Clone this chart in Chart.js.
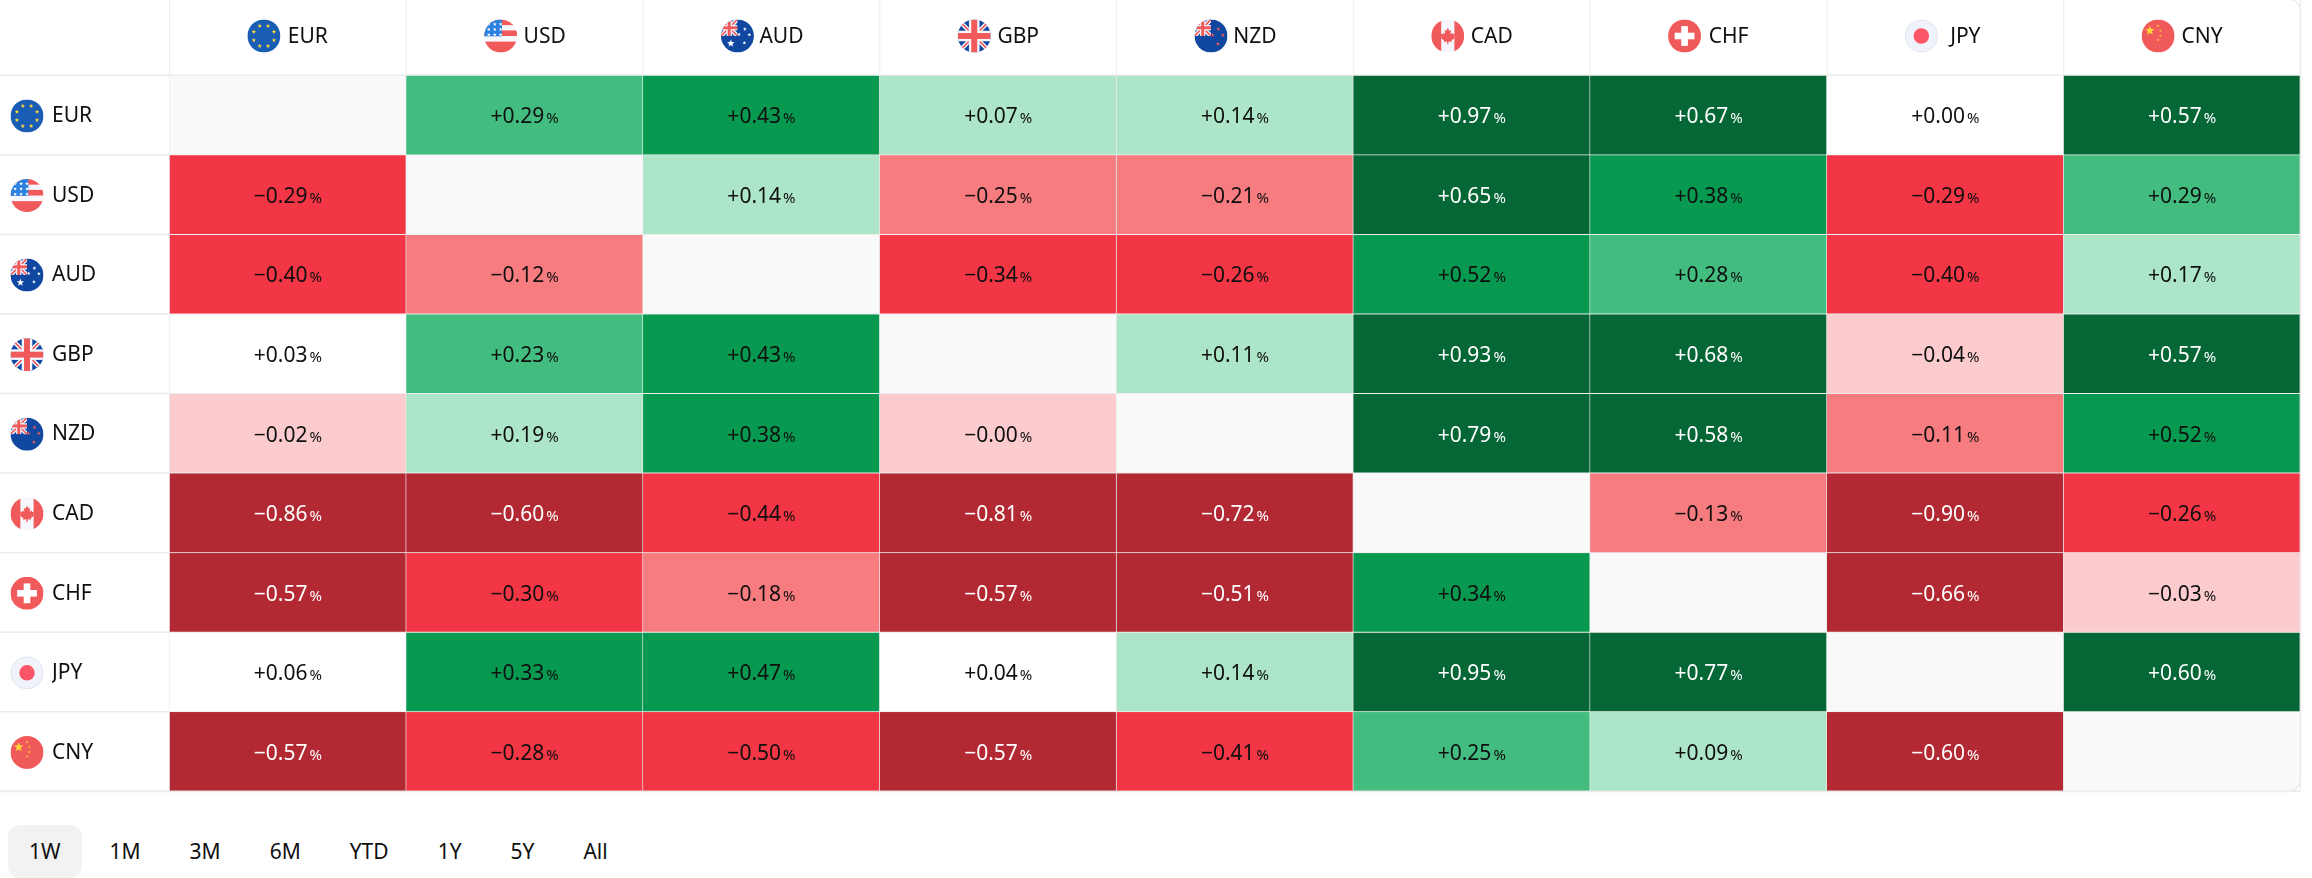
<!DOCTYPE html>
<html>
<head>
<meta charset="utf-8">
<title>Currency heat map</title>
<script src="https://cdn.jsdelivr.net/npm/chart.js@4"></script>
<style>
    html, body { margin: 0; padding: 0; background: #fff; overflow: hidden; }
    canvas { display: block; position: absolute; left: 0; top: 0; }
    #ranges { position: absolute; left: 8px; top: 825px; display: flex; gap: 7px; font: 21px "Noto Sans", sans-serif; color: #0f0f0f; }
    #ranges div { height: 53px; line-height: 53px; padding: 0 21px; border-radius: 12px; }
    #ranges div.on { background: #f2f2f2; }
</style>
</head>
<body>
<canvas id="heat" width="2312" height="800"></canvas>
<div id="ranges"></div>
<script>
const currencies = ['EUR', 'USD', 'AUD', 'GBP', 'NZD', 'CAD', 'CHF', 'JPY', 'CNY'];
const ranges = ['1W', '1M', '3M', '6M', 'YTD', '1Y', '5Y', 'All'];

// one list per row, -0 is a real value here (shown as -0.00 in pink)
const eurRow = [null, 0.29, 0.43, 0.07, 0.14, 0.97, 0.67, 0.00, 0.57];
const usdRow = [-0.29, null, 0.14, -0.25, -0.21, 0.65, 0.38, -0.29, 0.29];
const audRow = [-0.40, -0.12, null, -0.34, -0.26, 0.52, 0.28, -0.40, 0.17];
const gbpRow = [0.03, 0.23, 0.43, null, 0.11, 0.93, 0.68, -0.04, 0.57];
const nzdRow = [-0.02, 0.19, 0.38, -0, null, 0.79, 0.58, -0.11, 0.52];
const cadRow = [-0.86, -0.60, -0.44, -0.81, -0.72, null, -0.13, -0.90, -0.26];
const chfRow = [-0.57, -0.30, -0.18, -0.57, -0.51, 0.34, null, -0.66, -0.03];
const jpyRow = [0.06, 0.33, 0.47, 0.04, 0.14, 0.95, 0.77, null, 0.60];
const cnyRow = [-0.57, -0.28, -0.50, -0.57, -0.41, 0.25, 0.09, -0.60, null];
const rows = [eurRow, usdRow, audRow, gbpRow, nzdRow, cadRow, chfRow, jpyRow, cnyRow];

const FONT = '"Noto Sans", sans-serif';
const TEXT = '#0f0f0f';
const LINE = '#ebebeb';

function isNeg(v) { return v < 0 || Object.is(v, -0); }

function cellColor(v) {
    if (v === null) return '#f9f9f9';
    if (isNeg(v)) {
        if (v <= -0.51) return '#b22833';
        if (v <= -0.26) return '#f23645';
        if (v <= -0.105) return '#f77c80';
        return '#fccbcd';
    }
    if (v >= 0.55) return '#056636';
    if (v >= 0.30) return '#089950';
    if (v >= 0.20) return '#42bd7f';
    if (v >= 0.065) return '#ace5c8';
    return '#ffffff';
}

// ---- flags, all drawn in a box of radius r around 0,0 ----
const RED = '#f15a5a', NAVY = '#0f47a1', WHITE = '#f5f7fc', GOLD = '#ffd83b';

function star(ctx, x, y, r) {
    ctx.beginPath();
    for (let i = 0; i < 10; i++) {
        const a = -Math.PI / 2 + i * Math.PI / 5, q = i % 2 ? r * 0.42 : r;
        ctx.lineTo(x + Math.cos(a) * q, y + Math.sin(a) * q);
    }
    ctx.closePath();
    ctx.fill();
}

function box(ctx, color, x, y, w, h) {
    ctx.fillStyle = color;
    ctx.fillRect(x, y, w, h);
}

function jack(ctx, x0, y0, x1, y1, r) {
    ctx.save();
    ctx.beginPath();
    ctx.rect(x0, y0, x1 - x0, y1 - y0);
    ctx.clip();
    ctx.strokeStyle = WHITE; ctx.lineWidth = r * 0.26;
    ctx.beginPath();
    ctx.moveTo(x0, y0); ctx.lineTo(x1, y1);
    ctx.moveTo(x1, y0); ctx.lineTo(x0, y1);
    ctx.stroke();
    ctx.strokeStyle = RED; ctx.lineWidth = r * 0.1;
    ctx.stroke();
    const cx = (x0 + x1) / 2, cy = (y0 + y1) / 2, t = (x1 - x0) * 0.2;
    box(ctx, WHITE, cx - t * 0.8, y0, t * 1.6, y1 - y0);
    box(ctx, WHITE, x0, cy - t * 0.8, x1 - x0, t * 1.6);
    box(ctx, RED, cx - t * 0.45, y0, t * 0.9, y1 - y0);
    box(ctx, RED, x0, cy - t * 0.45, x1 - x0, t * 0.9);
    ctx.restore();
}

// half outline of the maple leaf, mirrored for the other side
const leaf = [[0, -0.5], [0.1, -0.3], [0.2, -0.36], [0.16, -0.1], [0.27, -0.2], [0.32, -0.1], [0.44, -0.13],
    [0.38, 0.05], [0.44, 0.1], [0.22, 0.27], [0.25, 0.36], [0.04, 0.33], [0.04, 0.5]];

const flags = {
    EUR(ctx, r) {
        box(ctx, '#1a5db5', -r, -r, 2 * r, 2 * r);
        ctx.fillStyle = GOLD;
        for (let i = 0; i < 8; i++) {
            const a = i * Math.PI / 4 + Math.PI / 8;
            star(ctx, Math.cos(a) * r * 0.66, Math.sin(a) * r * 0.66, r * 0.14);
        }
    },
    USD(ctx, r) {
        box(ctx, WHITE, -r, -r, 2 * r, 2 * r);
        box(ctx, RED, -r, -r, 2 * r, r * 0.34);
        box(ctx, RED, -r, -r * 0.34, 2 * r, r * 0.34);
        box(ctx, RED, -r, r * 0.34, 2 * r, r * 0.66);
        box(ctx, '#2b80e0', -r, -r, r * 1.08, r * 1.02);
        ctx.fillStyle = '#fff';
        for (let i = 0; i < 3; i++) for (let j = 0; j < 3; j++) {
            star(ctx, -r * 0.72 + j * r * 0.36, -r * 0.72 + i * r * 0.32, r * 0.12);
        }
    },
    AUD(ctx, r) {
        box(ctx, NAVY, -r, -r, 2 * r, 2 * r);
        jack(ctx, -r, -r, 0, 0, r);
        ctx.fillStyle = '#fff';
        star(ctx, -r * 0.4, r * 0.45, r * 0.24);
        star(ctx, r * 0.45, -r * 0.42, r * 0.12);
        star(ctx, r * 0.1, -r * 0.1, r * 0.12);
        star(ctx, r * 0.72, -r * 0.08, r * 0.12);
        star(ctx, r * 0.42, r * 0.42, r * 0.12);
    },
    GBP(ctx, r) {
        box(ctx, NAVY, -r, -r, 2 * r, 2 * r);
        jack(ctx, -r, -r, r, r, r);
    },
    NZD(ctx, r) {
        box(ctx, NAVY, -r, -r, 2 * r, 2 * r);
        jack(ctx, -r, -r, 0, 0, r);
        ctx.fillStyle = RED;
        star(ctx, r * 0.45, -r * 0.42, r * 0.13);
        star(ctx, r * 0.1, -r * 0.05, r * 0.13);
        star(ctx, r * 0.72, -r * 0.05, r * 0.13);
        star(ctx, r * 0.42, r * 0.48, r * 0.13);
    },
    CAD(ctx, r) {
        box(ctx, WHITE, -r, -r, 2 * r, 2 * r);
        box(ctx, RED, -r, -r, r * 0.6, 2 * r);
        box(ctx, RED, r * 0.4, -r, r * 0.6, 2 * r);
        ctx.fillStyle = RED;
        ctx.beginPath();
        leaf.forEach(p => ctx.lineTo(p[0] * r, p[1] * r));
        leaf.slice().reverse().forEach(p => ctx.lineTo(-p[0] * r, p[1] * r));
        ctx.closePath();
        ctx.fill();
    },
    CHF(ctx, r) {
        box(ctx, RED, -r, -r, 2 * r, 2 * r);
        box(ctx, '#fff', -r * 0.2, -r * 0.6, r * 0.4, r * 1.2);
        box(ctx, '#fff', -r * 0.6, -r * 0.2, r * 1.2, r * 0.4);
    },
    JPY(ctx, r) {
        box(ctx, '#f1f3fa', -r, -r, 2 * r, 2 * r);
        ctx.fillStyle = '#fb5568';
        ctx.beginPath(); ctx.arc(0, 0, r * 0.47, 0, 7); ctx.fill();
    },
    CNY(ctx, r) {
        box(ctx, RED, -r, -r, 2 * r, 2 * r);
        ctx.fillStyle = GOLD;
        star(ctx, -r * 0.5, -r * 0.32, r * 0.3);
        star(ctx, 0, -r * 0.62, r * 0.09);
        star(ctx, r * 0.14, -r * 0.32, r * 0.09);
        star(ctx, r * 0.14, -r * 0.02, r * 0.09);
        star(ctx, 0, r * 0.24, r * 0.09);
    }
};

function drawFlag(ctx, name, x, y, r) {
    ctx.save();
    ctx.translate(x, y);
    ctx.beginPath();
    ctx.arc(0, 0, r, 0, Math.PI * 2);
    ctx.clip();
    flags[name](ctx, r);
    ctx.restore();
    if (name === 'JPY') {
        ctx.strokeStyle = '#e3e6f0';
        ctx.lineWidth = 1;
        ctx.beginPath(); ctx.arc(x, y, r - 0.5, 0, Math.PI * 2); ctx.stroke();
    }
}

// rounded outer frame of the table, the top edge stays just off the canvas
function framePath(ctx, area) {
    const R = area.right, B = area.bottom, rad = 12;
    ctx.beginPath();
    ctx.moveTo(-5, -1);
    ctx.lineTo(R - rad, -1);
    ctx.arcTo(R, -1, R, rad, rad);
    ctx.lineTo(R, B - rad);
    ctx.arcTo(R, B, R - rad, B, rad);
    ctx.lineTo(-5, B);
    ctx.closePath();
}

const tablePlugin = {
    id: 'table',
    beforeDatasetsDraw(chart) {
        const { ctx, chartArea: area, scales: { y } } = chart;
        ctx.save();
        ctx.fillStyle = LINE;
        // row rules run the whole width, column rules the whole height
        for (let i = 0; i <= rows.length; i++) {
            ctx.fillRect(0, y.getPixelForValue(i) - 1, area.right, 1.5);
        }
        ctx.fillStyle = '#eeeeee';
        for (let i = 0; i <= currencies.length; i++) {
            const px = area.left + i * area.width / currencies.length;
            ctx.fillRect(px - 0.5, 0, 1, area.bottom);
        }
        ctx.restore();
        ctx.save();
        framePath(ctx, area);
        ctx.clip();
    },
    afterDatasetsDraw(chart) {
        const { ctx, chartArea: area, scales: { x, y } } = chart;
        ctx.restore();

        ctx.save();
        framePath(ctx, area);
        ctx.strokeStyle = LINE;
        ctx.lineWidth = 1.5;
        ctx.stroke();
        ctx.restore();

        ctx.save();
        ctx.textBaseline = 'alphabetic';
        ctx.textAlign = 'left';
        rows.forEach((vals, r) => {
            const cy = y.getPixelForValue(r + 0.5);
            vals.forEach((v, c) => {
                if (v === null) return;
                const cx = x.getPixelForValue(c);
                const num = (isNeg(v) ? '\u2212' : '+') + Math.abs(v).toFixed(2);
                ctx.fillStyle = (v >= 0.55 || v <= -0.51) ? '#ffffff' : TEXT;
                ctx.font = '21px ' + FONT;
                const w1 = ctx.measureText(num).width;
                ctx.font = '15px ' + FONT;
                const w2 = ctx.measureText('%').width;
                const left = cx - (w1 + 2 + w2) / 2;
                ctx.font = '21px ' + FONT;
                ctx.fillText(num, left, cy + 8);
                ctx.font = '15px ' + FONT;
                ctx.fillText('%', left + w1 + 2, cy + 8);
            });
        });
        ctx.restore();

        currencies.forEach((name, i) => {
            drawFlag(ctx, name, x.getPixelForValue(i) - 24, 36, 16.5);
            drawFlag(ctx, name, 27, y.getPixelForValue(i + 0.5) + 0.7, 16.5);
        });
    }
};

new Chart(document.getElementById('heat'), {
    type: 'bar',
    data: {
        labels: currencies,
        datasets: rows.map((vals, r) => ({
            label: currencies[r],
            data: vals.map(() => [r, r + 1]),
            backgroundColor: vals.map(cellColor),
            borderColor: '#eeeeee',
            borderWidth: { right: 1, bottom: 1 },
            borderSkipped: false,
            grouped: false,
            barPercentage: 1,
            categoryPercentage: 1
        }))
    },
    options: {
        responsive: false,
        animation: false,
        events: [],
        layout: { padding: { left: 52, right: 11.5, top: 0, bottom: 8.5 } },
        plugins: { legend: { display: false }, tooltip: { enabled: false } },
        scales: {
            x: {
                position: 'top',
                grid: { display: false, drawTicks: false },
                border: { display: false },
                afterFit: s => { s.height = 75.5; s.paddingLeft = 0; s.paddingRight = 0; },
                ticks: {
                    autoSkip: false, maxRotation: 0, labelOffset: 20, padding: 26,
                    color: TEXT, font: { family: FONT, size: 21 }
                }
            },
            y: {
                type: 'linear', min: 0, max: rows.length, reverse: true,
                grid: { display: false, drawTicks: false },
                border: { display: false },
                afterFit: s => { s.width = 117.5; s.paddingTop = 0; s.paddingBottom = 0; },
                afterBuildTicks: s => { s.ticks = currencies.map((_, i) => ({ value: i + 0.5 })); },
                ticks: {
                    autoSkip: false, crossAlign: 'far', padding: 0, labelOffset: 1,
                    color: TEXT, font: { family: FONT, size: 21 },
                    callback: v => currencies[v - 0.5]
                }
            }
        }
    },
    plugins: [tablePlugin]
});

const holder = document.getElementById('ranges');
ranges.forEach((t, i) => {
    const el = document.createElement('div');
    el.textContent = t;
    if (i === 0) el.className = 'on';
    holder.appendChild(el);
});
</script>
</body>
</html>
